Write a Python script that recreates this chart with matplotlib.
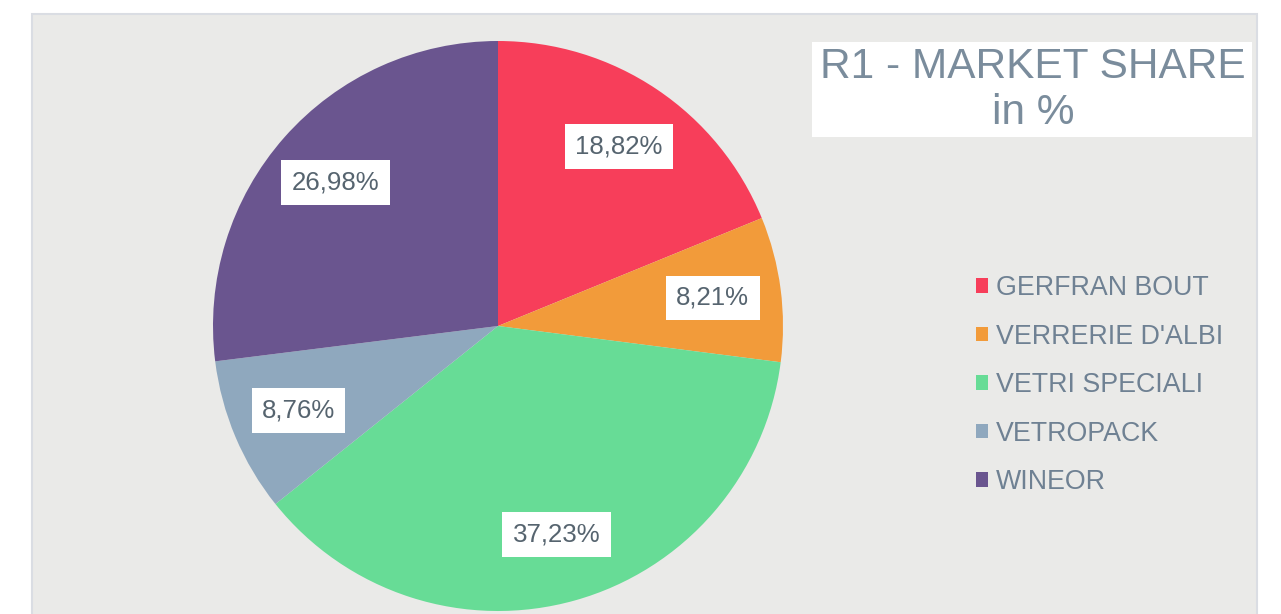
import matplotlib
matplotlib.use('Agg')
import matplotlib.pyplot as plt
from matplotlib.patches import Rectangle

plt.rcParams['font.family'] = ['Liberation Sans', 'DejaVu Sans']

# Dados do gráfico
empresas = ['GERFRAN BOUT', "VERRERIE D'ALBI", 'VETRI SPECIALI', 'VETROPACK', 'WINEOR']
quotas = [18.82, 8.21, 37.23, 8.76, 26.98]
cores = ['#F73E5A', '#F29B3A', '#67DC96', '#8FA8BE', '#6A558F']
titulo = 'R1 - MARKET SHARE\nin %'

W, H = 1281, 614
fig = plt.figure(figsize=(W / 100, H / 100), dpi=100)
fig.patch.set_facecolor('white')

# Painel cinza de fundo
painel = Rectangle((32 / W, -0.01), (1257 - 32) / W, 1 - 14 / H + 0.01,
                   transform=fig.transFigure, facecolor='#EAEAE8',
                   edgecolor='#DADDE3', linewidth=1.5, zorder=-2)
fig.patches.append(painel)

# Eixo da pizza (centro em 498, 326; raio 285 px)
cx, cy, r = 498, 326, 285
ax = fig.add_axes([(cx - r) / W, (H - cy - r) / H, 2 * r / W, 2 * r / H])
ax.set_facecolor('none')
ax.set_zorder(1)


def fmt(p):
    return f'{p:.2f}%'.replace('.', ',')


wedges, texts, autotexts = ax.pie(
    quotas, colors=cores, startangle=90, counterclock=False,
    autopct=fmt, pctdistance=0.76, radius=1,
    wedgeprops=dict(linewidth=0))
for t in autotexts:
    t.set_fontsize(18.6)
    t.set_color('#56646F')
    t.set_bbox(dict(facecolor='white', edgecolor='none', boxstyle='square,pad=0.4'))
ax.set_xlim(-1, 1)
ax.set_ylim(-1, 1)
ax.set_aspect('equal')
ax.axis('off')

# Caixa do título
caixa = Rectangle((812 / W, 1 - 137 / H), (1252 - 812) / W, (137 - 42) / H,
                  transform=fig.transFigure, facecolor='white', edgecolor='none', zorder=-1)
fig.patches.append(caixa)
fig.text(1033 / W, 1 - 90 / H, titulo, ha='center', va='center', fontsize=30.5,
         color='#7A8C9C', linespacing=1.18, zorder=2)

# Legenda
leg = fig.legend(wedges, empresas, loc='upper left',
                 bbox_to_anchor=(976 / W, 1 - 275 / H), bbox_transform=fig.transFigure,
                 frameon=False, fontsize=19.3, handlelength=0.45, handleheight=0.45,
                 handletextpad=0.28, labelspacing=0.84, borderpad=0, borderaxespad=0)
for t in leg.get_texts():
    t.set_color('#6F8193')

fig.savefig('out.png', dpi=100)
